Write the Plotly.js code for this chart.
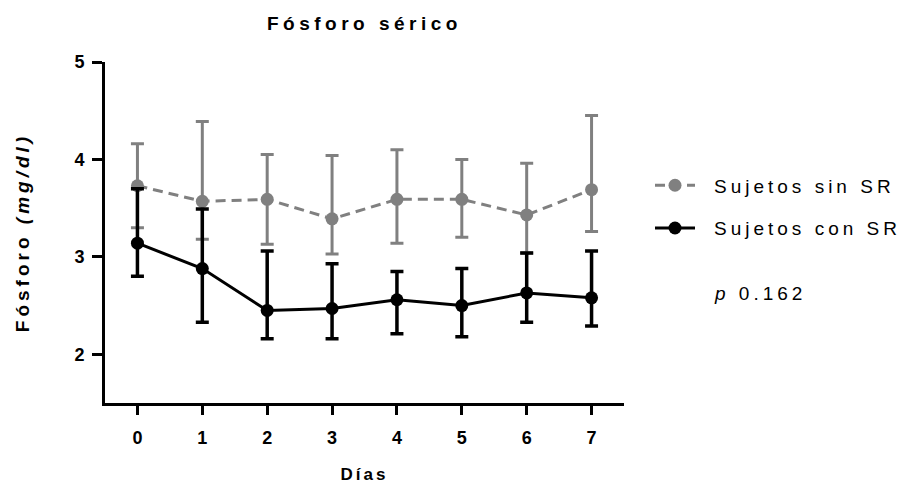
<!DOCTYPE html>
<html>
<head>
<meta charset="utf-8">
<script src="https://cdn.plot.ly/plotly-3.0.1.min.js"></script>
<style>
  html, body { margin: 0; padding: 0; background: #fff; }
  #chart { width: 906px; height: 484px; }
  .gtitle { letter-spacing: 4.5px; }
  .xtitle { letter-spacing: 3px; }
  .ytitle { letter-spacing: 4px; }
  .legendtext { letter-spacing: 4px; transform: translateX(14px); }
  .legend .scrollbox { clip-path: none !important; }
  .annotation-text { letter-spacing: 4px; }
</style>
</head>
<body>
<div id="chart"></div>
<script>
// Days
const days = [0, 1, 2, 3, 4, 5, 6, 7];
const tickLabels = ['0', '1', '2', '3', '4', '5', '6', '7'];

// Sujetos sin SR (grey, dashed)
const sinMean  = [3.73, 3.57, 3.59, 3.39, 3.59, 3.59, 3.43, 3.69];
const sinUpper = [4.16, 4.39, 4.05, 4.04, 4.10, 4.00, 3.96, 4.45];
const sinLower = [3.30, 3.18, 3.13, 3.03, 3.14, 3.20, 3.04, 3.26];

// Sujetos con SR (black, solid)
const conMean  = [3.14, 2.88, 2.45, 2.47, 2.56, 2.50, 2.63, 2.58];
const conUpper = [3.70, 3.49, 3.06, 2.93, 2.85, 2.88, 3.04, 3.06];
const conLower = [2.80, 2.33, 2.16, 2.16, 2.21, 2.18, 2.33, 2.29];

const pValue = '0.162';

const up = (hi, m) => hi.map((v, i) => +(v - m[i]).toFixed(3));
const dn = (lo, m) => lo.map((v, i) => +(m[i] - v).toFixed(3));

const grey = '#808080';

const traces = [
  {
    x: days, y: sinMean, name: 'Sujetos sin SR', type: 'scatter', mode: 'lines+markers',
    legendgroup: 'a',
    line: { color: grey, width: 3, dash: '10px,6px' },
    marker: { color: grey, size: 13 },
    error_y: { type: 'data', symmetric: false, array: up(sinUpper, sinMean), arrayminus: dn(sinLower, sinMean),
               color: grey, thickness: 3, width: 6.5 }
  },
  {
    x: days, y: conMean, name: 'Sujetos con SR', type: 'scatter', mode: 'lines+markers',
    legendgroup: 'b',
    line: { color: '#000', width: 3 },
    marker: { color: '#000', size: 13 },
    error_y: { type: 'data', symmetric: false, array: up(conUpper, conMean), arrayminus: dn(conLower, conMean),
               color: '#000', thickness: 3.5, width: 6.5 }
  }
];

const fontFam = '"Liberation Sans", Arial, sans-serif';

const layout = {
  width: 906, height: 484,
  margin: { l: 105, r: 282, t: 62, b: 81 },
  paper_bgcolor: '#fff', plot_bgcolor: '#fff',
  font: { family: fontFam, color: '#000', size: 16 },
  title: { text: '<b>Fósforo sérico</b>', x: 0.5, xanchor: 'center', xref: 'paper', y: 0.952, yanchor: 'middle', yref: 'container',
           font: { family: fontFam, size: 19, color: '#000' } },
  xaxis: {
    range: [-0.5, 7.5], tickvals: days, ticktext: tickLabels,
    showline: true, linecolor: '#000', linewidth: 3, showgrid: false, zeroline: false,
    ticks: 'outside', ticklen: 9, tickwidth: 3, tickcolor: '#000',
    tickfont: { family: fontFam, size: 18, color: '#000', weight: 'bold' },
    ticklabelstandoff: 7,
    title: { text: '<b>Días</b>', standoff: 24, font: { family: fontFam, size: 17, color: '#000' } },
    fixedrange: true
  },
  yaxis: {
    range: [1.5, 5], tickvals: [2, 3, 4, 5],
    showline: true, linecolor: '#000', linewidth: 3, showgrid: false, zeroline: false,
    ticks: 'outside', ticklen: 10, tickwidth: 3, tickcolor: '#000',
    tickfont: { family: fontFam, size: 18, color: '#000', weight: 'bold' },
    ticklabelstandoff: 4,
    title: { text: '<b>Fósforo <i>(mg/dl)</i></b>', standoff: 40, font: { family: fontFam, size: 19, color: '#000' } },
    fixedrange: true
  },
  showlegend: true,
  legend: {
    x: (650 - 105) / 519, xanchor: 'left', y: 0.575, yanchor: 'middle',
    font: { family: fontFam, size: 19, color: '#000' },
    bgcolor: 'rgba(0,0,0,0)', borderwidth: 0,
    traceorder: 'grouped', tracegroupgap: 15, itemwidth: 40
  },
  annotations: [
    { xref: 'paper', yref: 'paper', x: (712 - 105) / 519, y: (402.7 - 293) / 341.0, xanchor: 'left', yanchor: 'middle',
      text: '<i>p</i> ' + pValue, showarrow: false, font: { family: fontFam, size: 19, color: '#000' } }
  ]
};

Plotly.newPlot('chart', traces, layout, { displayModeBar: false, staticPlot: true });
</script>
</body>
</html>
